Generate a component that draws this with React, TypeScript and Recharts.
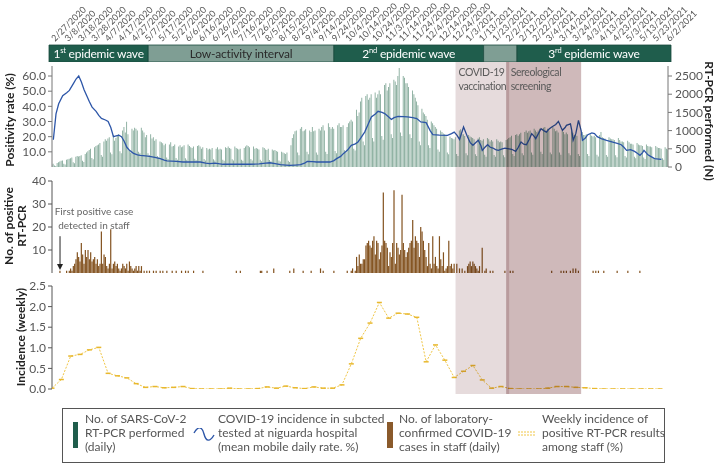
import React from "react";
import {
  ComposedChart,
  Bar,
  Line,
  XAxis,
  YAxis,
  ReferenceArea,
  ReferenceLine,
  ReferenceDot,
} from "recharts";

// day 0 = 2/27/2020, one tick label every 10 days
const dateLabels = [
  "2/27/2020", "3/8/2020", "3/18/2020", "3/28/2020", "4/7/2020", "4/17/2020",
  "4/27/2020", "5/7/2020", "5/17/2020", "5/27/2020", "6/6/2020", "6/16/2020",
  "6/26/2020", "7/6/2020", "7/16/2020", "7/26/2020", "8/5/2020", "8/15/2020",
  "8/25/2020", "9/4/2020", "9/14/2020", "9/24/2020", "10/4/2020", "10/14/2020",
  "10/24/2020", "11/3/2020", "11/14/2020", "11/24/2020", "12/4/2020", "12/14/2020",
  "12/24/2020", "1/3/2021", "1/13/2021", "1/23/2021", "2/2/2021", "2/12/2021",
  "2/22/2021", "3/4/2021", "3/14/2021", "3/24/2021", "4/3/2021", "4/13/2021",
  "4/23/2021", "5/3/2021", "5/13/2021", "5/23/2021", "6/2/2021",
];
const dateTicks = dateLabels.map((_, i) => i * 10);

const phaseStart = [-2.25, 72, 211, 323, 348];
const phaseEnd = [72, 211, 323, 348, 463.25];
const phaseNum = ["1", "Low-activity interval", "2", "", "3"];
const phaseSup = ["st", "", "nd", "", "rd"];
const phaseRest = [" epidemic wave", "", " epidemic wave", "", " epidemic wave"];
const phaseFill = ["#1f5d4c", "#7f9e94", "#1f5d4c", "#7f9e94", "#1f5d4c"];
const phaseText = ["#ffffff", "#2b2b2b", "#ffffff", "#ffffff", "#ffffff"];

const eventNames = [["COVID-19", "vaccination"], ["Sereological", "screening"]];
const eventStart = [302, 341];
const eventEnd = [341, 396];
const eventFill = ["#e6dbdc", "#cfb9ba"];

// daily RT-PCR performed, one row per week (Thu..Wed)
const rtpcrDaily = [
  60, 90, 40, 30, 110, 130, 150,
  170, 180, 90, 70, 200, 210, 230,
  240, 260, 130, 100, 280, 300, 290,
  300, 320, 170, 140, 360, 400, 430,
  470, 500, 250, 210, 540, 580, 600,
  620, 660, 330, 280, 700, 760, 720,
  780, 820, 400, 350, 880, 720, 800,
  860, 900, 430, 380, 1000, 1100, 950,
  1240, 900, 450, 400, 1050, 1000, 1080,
  1050, 1000, 420, 380, 1080, 1000, 950,
  820, 880, 380, 320, 900, 780, 820,
  720, 760, 300, 260, 700, 680, 650,
  600, 640, 260, 220, 620, 680, 560,
  580, 620, 250, 200, 560, 600, 540,
  560, 600, 240, 200, 620, 580, 540,
  520, 560, 230, 190, 580, 600, 560,
  500, 540, 220, 180, 520, 480, 500,
  480, 520, 210, 180, 500, 540, 480,
  500, 480, 200, 170, 540, 520, 560,
  520, 500, 210, 180, 560, 520, 500,
  480, 500, 200, 170, 520, 560, 600,
  580, 540, 220, 180, 560, 500, 520,
  500, 480, 200, 160, 540, 520, 480,
  470, 500, 190, 160, 480, 450, 470,
  440, 420, 180, 150, 420, 400, 380,
  360, 400, 170, 140, 600, 800, 900,
  980, 1000, 400, 320, 1050, 1100, 980,
  1000, 1040, 420, 350, 1000, 960, 1100,
  980, 1000, 400, 340, 1050, 1000, 1100,
  1150, 1000, 420, 360, 1200, 1100, 1050,
  1100, 1050, 440, 380, 1150, 1200, 1100,
  1100, 1150, 460, 400, 1100, 1200, 1250,
  1300, 1250, 500, 450, 1570, 1400, 1500,
  1800, 1900, 700, 600, 1950, 2000, 1850,
  1900, 2000, 800, 700, 2050, 1900, 2000,
  2100, 2000, 850, 750, 2250, 2300, 2100,
  2200, 2300, 900, 800, 2400, 2350, 2250,
  2500, 2720, 950, 850, 2500, 2450, 2300,
  2300, 2200, 900, 800, 2100, 2000, 1900,
  1800, 1700, 700, 600, 1600, 1500, 1450,
  1400, 1300, 600, 520, 1250, 1200, 1150,
  1100, 1050, 480, 420, 1000, 960, 920,
  900, 860, 400, 350, 840, 800, 780,
  760, 820, 360, 300, 1000, 1040, 900,
  900, 850, 380, 320, 880, 840, 820,
  800, 760, 350, 300, 780, 820, 740,
  720, 760, 340, 280, 800, 760, 700,
  740, 700, 330, 280, 760, 720, 680,
  700, 680, 320, 270, 740, 760, 800,
  820, 860, 360, 300, 880, 900, 860,
  900, 940, 380, 320, 960, 1000, 940,
  980, 1000, 400, 340, 1050, 1000, 960,
  1000, 1050, 420, 360, 1080, 1100, 1000,
  1050, 1000, 400, 350, 1100, 1050, 980,
  1000, 950, 400, 340, 1000, 960, 900,
  950, 900, 380, 320, 980, 940, 880,
  900, 860, 360, 300, 920, 960, 880,
  880, 900, 360, 300, 900, 860, 840,
  860, 820, 340, 290, 880, 960, 820,
  800, 780, 330, 280, 820, 780, 760,
  760, 740, 320, 270, 800, 740, 700,
  700, 680, 300, 260, 720, 680, 640,
  640, 620, 280, 240, 660, 620, 600,
  600, 580, 260, 220, 620, 580, 560,
  560, 540, 250, 210, 580, 540, 520,
  520, 500, 240, 200, 540, 500, 480,
];

// positivity rate (%), mobile mean, read at these days
const rateDays = [
  1, 3, 5, 8, 11, 13, 16, 18, 20, 22, 24, 26, 28, 30, 33, 35, 37, 40, 42, 44,
  46, 48, 50, 52, 54, 56, 58, 61, 64, 66, 70, 73, 77, 81, 84, 86, 93, 98, 105, 111,
  115, 118, 122, 128, 135, 142, 148, 155, 160, 163, 167, 171, 175, 178, 182, 186, 189, 191, 195, 198,
  203, 208, 211, 213, 216, 218, 221, 224, 227, 229, 231, 234, 237, 239, 242, 244, 247, 249, 252, 254,
  256, 259, 263, 266, 270, 273, 276, 280, 283, 285, 290, 296, 299, 301, 303, 305, 308, 310, 311, 313,
  315, 317, 319, 321, 322, 324, 326, 328, 330, 332, 334, 337, 339, 342, 344, 347, 349, 351, 353, 355,
  357, 359, 361, 362, 364, 366, 368, 370, 372, 374, 377, 379, 381, 382, 384, 385, 388, 389, 390, 392,
  394, 396, 397, 399, 401, 404, 406, 408, 411, 415, 419, 423, 426, 428, 430, 433, 436, 438, 440, 442,
  443, 445, 446, 448, 451, 454, 456,
];
const rateValues = [
  18, 35, 41.7, 47, 49, 50.5, 55, 58, 60, 56, 51, 47, 43, 39.5, 36.7, 34, 32, 31, 30, 26,
  20, 20.5, 21, 20, 17, 13, 11, 9, 8, 7.7, 7.3, 7, 6.3, 5.5, 4.5, 4, 3.7, 3.3, 3.4, 3.3,
  2.6, 2.2, 2.6, 1.8, 1.8, 1.8, 1.8, 2, 2.5, 2.8, 2.2, 1.5, 1.3, 1.1, 1.3, 1.5, 2.5, 3.7, 3.5, 3.3,
  3.3, 3.3, 4.2, 5.5, 7, 8.8, 11, 14.3, 15.3, 16.5, 19, 23, 29, 33, 35, 36.7, 36, 35.2, 33, 31.4,
  32.5, 33.4, 33.2, 33, 32.5, 31.9, 29.7, 29.2, 24, 21.3, 21, 20.9, 22, 23, 21, 18.2, 26.4, 22, 19.8, 16,
  14.3, 16, 17.6, 14, 11, 13, 14.7, 13, 12.5, 11.5, 11, 12, 12.5, 12, 11.7, 10.3, 13, 16.5, 15, 14.7,
  18, 22, 20, 18.7, 22, 25.3, 24, 23, 25, 26.4, 28, 30.1, 26, 24.2, 26, 27.5, 28.5, 24, 17.6, 22,
  30.8, 24, 17.6, 19, 21.3, 22.5, 22, 20, 18.7, 17.5, 16.5, 15.5, 14.7, 13, 11, 11.5, 10.3, 9, 7.7, 9.5,
  11, 9, 8.1, 7, 5.5, 5.2, 5,
];

// laboratory-confirmed cases in staff (days with at least one case)
const caseDays = [
  6, 11, 13, 14, 15, 16, 17, 18, 19, 20, 21, 22, 23, 24, 25, 26, 27, 28, 29, 30,
  31, 32, 33, 34, 35, 36, 37, 38, 39, 40, 41, 42, 43, 44, 45, 46, 47, 48, 49, 50,
  51, 52, 53, 54, 55, 56, 57, 58, 59, 60, 61, 62, 63, 64, 65, 66, 67, 69, 71, 73,
  76, 78, 81, 83, 86, 90, 93, 97, 100, 102, 106, 113, 138, 141, 156, 157, 161, 166, 178, 181,
  188, 194, 201, 203, 211, 221, 224, 225, 227, 228, 229, 230, 231, 232, 233, 234, 235, 236, 237, 238,
  239, 240, 241, 242, 243, 244, 245, 246, 247, 248, 249, 250, 251, 252, 253, 254, 255, 256, 257, 258,
  259, 260, 261, 262, 263, 264, 265, 266, 267, 268, 269, 270, 271, 272, 273, 274, 275, 276, 277, 278,
  279, 280, 281, 282, 283, 284, 285, 286, 287, 288, 289, 290, 291, 292, 293, 294, 295, 296, 297, 298,
  299, 300, 301, 303, 305, 307, 309, 311, 312, 313, 314, 315, 316, 317, 318, 319, 320, 322, 324, 325,
  328, 330, 339, 343, 345, 374, 381, 383, 385, 388, 390, 392, 394, 405, 407, 409, 413, 423, 431, 440,
];
const caseCounts = [
  1, 1, 1, 2, 1, 3, 4, 6, 9, 7, 5, 13, 8, 4, 10, 7, 10, 6, 9, 5,
  6, 7, 4, 6, 3, 4, 18, 4, 8, 7, 3, 2, 4, 19, 2, 4, 5, 3, 4, 2,
  1, 2, 4, 3, 2, 4, 1, 5, 3, 2, 1, 2, 3, 1, 3, 1, 3, 1, 1, 1,
  1, 1, 1, 1, 1, 1, 1, 1, 1, 1, 1, 1, 1, 1, 1, 1, 1, 2, 1, 2,
  1, 1, 2, 1, 1, 1, 1, 2, 1, 7, 3, 8, 4, 4, 6, 6, 12, 13, 14, 12,
  11, 14, 16, 8, 14, 13, 6, 9, 12, 35, 14, 13, 11, 3, 9, 7, 13, 36, 4, 13,
  11, 8, 10, 34, 13, 10, 7, 9, 11, 13, 14, 23, 11, 16, 14, 13, 7, 20, 18, 14,
  10, 7, 3, 13, 4, 2, 16, 4, 7, 3, 2, 16, 6, 3, 9, 1, 2, 3, 14, 3,
  4, 2, 4, 4, 2, 2, 1, 3, 4, 5, 3, 5, 4, 3, 2, 1, 3, 11, 1, 2,
  1, 1, 1, 1, 1, 1, 1, 1, 1, 1, 2, 2, 1, 1, 1, 1, 1, 1, 1, 1,
];

// weekly incidence among staff (%), one point every 7 days from day 0
const weeklyIncidence = [
  0.02, 0.23, 0.8, 0.84, 0.95, 1.01, 0.38, 0.32, 0.27, 0.13, 0.04,
  0.06, 0.03, 0.04, 0.06, 0.01, 0, 0, 0, 0.02, 0, 0,
  0.01, 0.05, 0.02, 0.07, 0.03, 0.01, 0.05, 0.02, 0.02, 0.1, 0.61,
  1.23, 1.6, 2.1, 1.72, 1.84, 1.82, 1.74, 0.66, 1.07, 0.7, 0.28,
  0.43, 0.57, 0.22, 0.02, 0.06, 0.01, 0, 0, 0, 0.02, 0.06,
  0.06, 0.04, 0.03, 0.01, 0, 0, 0, 0, 0, 0, 0,
];

const rateTicks = [10, 20, 30, 40, 50, 60];
const rtpcrTicks = [0, 500, 1000, 1500, 2000, 2500];
const caseTicks = [10, 20, 30, 40];
const incidenceTicks = [0, 0.5, 1, 1.5, 2, 2.5];

const rtpcrData = rtpcrDaily.map((n, d) => ({ d, n }));
const rateData = rateDays.map((d, i) => ({ d, v: rateValues[i] }));
const caseData = caseDays.map((d, i) => ({ d, c: caseCounts[i] }));
const incidenceData = weeklyIncidence.map((w, i) => ({ d: i * 7, w }));
const frameData = [
  { d: 0, y: 0 },
  { d: 461, y: 1 },
];

const FONT = "Lato, 'Open Sans', sans-serif";
const tickStyle = { fontSize: 12, fill: "#555", fontFamily: FONT };

const DateTick = (props: any) => {
  const { x, payload } = props;
  return (
    <text
      transform={`translate(${x + 3},42) rotate(-45)`}
      fontSize={9}
      fill="#555"
      fontFamily={FONT}
    >
      {dateLabels[Math.round(payload.value / 10)]}
    </text>
  );
};

const phaseLabel = (i: number) => (props: any) => {
  const vb = props.viewBox;
  if (!vb || !phaseNum[i]) return null;
  return (
    <text
      x={vb.x + vb.width / 2}
      y={vb.y + vb.height / 2 + 4.5}
      textAnchor="middle"
      fill={phaseText[i]}
      fontSize={12}
      letterSpacing={-0.2}
      fontFamily={FONT}
    >
      {phaseNum[i]}
      {phaseSup[i] && (
        <tspan fontSize={7.5} dy={-5}>
          {phaseSup[i]}
        </tspan>
      )}
      {phaseRest[i] && <tspan dy={5}>{phaseRest[i]}</tspan>}
    </text>
  );
};

const eventLabel = (i: number) => (props: any) => {
  const vb = props.viewBox;
  if (!vb) return null;
  return (
    <text
      x={vb.x + 3}
      y={vb.y + 14}
      fill="#5a5a5a"
      fontSize={10.5}
      letterSpacing={-0.4}
      fontFamily={FONT}
    >
      <tspan x={vb.x + 3}>{eventNames[i][0]}</tspan>
      <tspan x={vb.x + 3} dy={14}>
        {eventNames[i][1]}
      </tspan>
    </text>
  );
};

const WeekDot = (props: any) => {
  const { cx, cy, index } = props;
  if (cx == null || cy == null) return <g key={index} />;
  return (
    <line
      key={index}
      x1={cx - 2.5}
      x2={cx + 2.5}
      y1={cy}
      y2={cy}
      stroke="#e8b82e"
      strokeWidth={1.5}
    />
  );
};

const ArrowHead = (props: any) => {
  const { cx, cy } = props;
  if (cx == null) return <g />;
  return <path d={`M${cx - 3},${cy - 6} L${cx + 3},${cy - 6} L${cx},${cy} Z`} fill="#222" />;
};

const abs = (top: number): React.CSSProperties => ({ position: "absolute", left: 0, top });

const titleProps = {
  textAnchor: "middle" as const,
  fontSize: 12,
  fontWeight: 700,
  fill: "#222",
};

export default function App() {
  return (
    <div
      style={{
        position: "absolute",
        left: 0,
        top: 0,
        width: 718,
        height: 466,
        background: "#fff",
        fontFamily: FONT,
        overflow: "hidden",
      }}
    >
      {/* date labels + phase band */}
      <div style={abs(0)}>
        <ComposedChart
          width={718}
          height={62}
          data={frameData}
          margin={{ top: 0, right: 47, bottom: 0, left: 49 }}
        >
          <XAxis
            dataKey="d"
            type="number"
            orientation="top"
            domain={[-2.25, 463.25]}
            allowDataOverflow
            ticks={dateTicks}
            interval={0}
            tick={<DateTick />}
            tickLine={false}
            axisLine={false}
            height={45}
          />
          <YAxis hide domain={[0, 1]} allowDataOverflow />
          <Line dataKey="y" stroke="none" dot={false} isAnimationActive={false} />
          {phaseStart.map((s, i) => (
            <ReferenceArea
              key={i}
              x1={s}
              x2={phaseEnd[i]}
              y1={0}
              y2={1}
              fill={phaseFill[i]}
              fillOpacity={1}
              stroke="#194a3d"
              strokeWidth={0.8}
              label={phaseLabel(i)}
            />
          ))}
        </ComposedChart>
      </div>

      {/* top panel: RT-PCR performed + positivity rate */}
      <div style={abs(62)}>
        <ComposedChart
          width={718}
          height={117}
          data={rtpcrData}
          margin={{ top: 4, right: 10, bottom: 12, left: 8 }}
        >
          <XAxis
            dataKey="d"
            type="number"
            domain={[0, 461]}
            allowDataOverflow
            tick={false}
            tickLine={false}
            axisLine={{ stroke: "#999" }}
            height={0}
          />
          <YAxis
            yAxisId="rate"
            width={44}
            domain={[0, 66.6]}
            allowDataOverflow
            ticks={rateTicks}
            interval={0}
            tickFormatter={(v: number) => v.toFixed(1)}
            tick={tickStyle}
            tickSize={4}
            tickMargin={2}
            axisLine={{ stroke: "#777" }}
            tickLine={{ stroke: "#777" }}
          />
          <YAxis
            yAxisId="n"
            orientation="right"
            width={40}
            domain={[0, 2775]}
            allowDataOverflow
            ticks={rtpcrTicks}
            interval={0}
            tick={tickStyle}
            tickSize={4}
            tickMargin={3}
            axisLine={{ stroke: "#777" }}
            tickLine={{ stroke: "#777" }}
          />
          <Bar
            yAxisId="n"
            dataKey="n"
            barSize={0.9}
            fill="#86ab9b"
            isAnimationActive={false}
          />
          <Line
            yAxisId="rate"
            data={rateData}
            dataKey="v"
            type="linear"
            stroke="#2d56a8"
            strokeWidth={1.3}
            dot={false}
            isAnimationActive={false}
          />
        </ComposedChart>
      </div>

      {/* middle panel: staff cases */}
      <div style={abs(169)}>
        <ComposedChart
          width={718}
          height={110}
          data={caseData}
          margin={{ top: 12, right: 50, bottom: 6, left: 8 }}
        >
          <XAxis
            dataKey="d"
            type="number"
            domain={[0, 461]}
            allowDataOverflow
            tick={false}
            tickLine={false}
            axisLine={{ stroke: "#333" }}
            height={0}
          />
          <YAxis
            width={44}
            domain={[0, 40]}
            allowDataOverflow
            ticks={caseTicks}
            interval={0}
            tick={tickStyle}
            tickSize={4}
            tickMargin={2}
            axisLine={{ stroke: "#555" }}
            tickLine={{ stroke: "#555" }}
          />
          <Bar dataKey="c" barSize={1.8} fill="#83521f" isAnimationActive={false} />
          <ReferenceLine
            segment={[
              { x: 6, y: 16 },
              { x: 6, y: 2.6 },
            ]}
            stroke="#222"
            strokeWidth={1}
          />
          <ReferenceDot x={6} y={1.3} r={3} shape={<ArrowHead />} />
        </ComposedChart>
      </div>

      {/* bottom panel: weekly incidence */}
      <div style={abs(274)}>
        <ComposedChart
          width={718}
          height={127}
          data={incidenceData}
          margin={{ top: 12, right: 50, bottom: 12, left: 8 }}
        >
          <XAxis
            dataKey="d"
            type="number"
            domain={[0, 461]}
            allowDataOverflow
            tick={false}
            tickLine={false}
            axisLine={{ stroke: "#333" }}
            height={0}
          />
          <YAxis
            width={44}
            domain={[0, 2.5]}
            allowDataOverflow
            ticks={incidenceTicks}
            interval={0}
            tickFormatter={(v: number) => v.toFixed(1)}
            tick={tickStyle}
            tickSize={4}
            tickMargin={2}
            axisLine={{ stroke: "#555" }}
            tickLine={{ stroke: "#555" }}
          />
          <Line
            dataKey="w"
            type="linear"
            stroke="#f0c646"
            strokeWidth={1}
            strokeDasharray="2 1.5"
            dot={<WeekDot />}
            isAnimationActive={false}
          />
        </ComposedChart>
      </div>

      {/* vaccination / screening shading across the three panels */}
      <div style={{ ...abs(62), mixBlendMode: "multiply", pointerEvents: "none" }}>
        <ComposedChart
          width={718}
          height={332}
          data={frameData}
          margin={{ top: 0, right: 50, bottom: 0, left: 52 }}
        >
          <XAxis hide dataKey="d" type="number" domain={[0, 461]} allowDataOverflow />
          <YAxis hide domain={[0, 1]} allowDataOverflow />
          <Line dataKey="y" stroke="none" dot={false} isAnimationActive={false} />
          {eventStart.map((s, i) => (
            <ReferenceArea
              key={i}
              x1={s}
              x2={eventEnd[i]}
              y1={0}
              y2={1}
              fill={eventFill[i]}
              fillOpacity={1}
              label={eventLabel(i)}
            />
          ))}
          <ReferenceLine x={eventStart[1]} stroke="#b99b9d" strokeWidth={3} />
        </ComposedChart>
      </div>

      {/* axis titles and annotation */}
      <svg
        width={718}
        height={466}
        style={{ position: "absolute", left: 0, top: 0, pointerEvents: "none" }}
        fontFamily={FONT}
      >
        <text transform="translate(14,120) rotate(-90)" {...titleProps}>
          Positivity rate (%)
        </text>
        <text transform="translate(705,121) rotate(90)" {...titleProps}>
          RT-PCR performed (N)
        </text>
        <text transform="translate(13,226) rotate(-90)" {...titleProps}>
          No. of positive
        </text>
        <text transform="translate(26,226) rotate(-90)" {...titleProps}>
          RT-PCR
        </text>
        <text transform="translate(25,337) rotate(-90)" {...titleProps}>
          Incidence (weekly)
        </text>
        <text x={94} y={215} textAnchor="middle" fontSize={10} fill="#666">
          First positive case
        </text>
        <text x={94} y={229} textAnchor="middle" fontSize={10} fill="#666">
          detected in staff
        </text>
      </svg>

      {/* legend */}
      <div
        style={{
          position: "absolute",
          left: 62,
          top: 408,
          width: 603,
          height: 55,
          boxSizing: "border-box",
          border: "1px solid #555",
          fontSize: 12,
          lineHeight: "14px",
          color: "#555",
        }}
      >
        <div style={{ position: "absolute", left: 10, top: 13, width: 5, height: 26, background: "#1f5d4c" }} />
        <div style={{ position: "absolute", left: 22, top: 3, whiteSpace: "nowrap" }}>
          No. of SARS-CoV-2
          <br />
          RT-PCR performed
          <br />
          (daily)
        </div>
        <svg width={22} height={14} style={{ position: "absolute", left: 130, top: 19 }}>
          <path d="M1,5 C5,-2 9,-2 11,6 C13,14 17,14 21,7" fill="none" stroke="#2d56a8" strokeWidth={1.4} />
        </svg>
        <div style={{ position: "absolute", left: 155, top: 3, whiteSpace: "nowrap" }}>
          COVID-19 incidence in subcted
          <br />
          tested at niguarda hospital
          <br />
          (mean mobile daily rate. %)
        </div>
        <div style={{ position: "absolute", left: 324, top: 13, width: 6, height: 26, background: "#8a5a2b" }} />
        <div style={{ position: "absolute", left: 336, top: 3, whiteSpace: "nowrap" }}>
          No. of laboratory-
          <br />
          confirmed COVID-19
          <br />
          cases in staff (daily)
        </div>
        <svg width={18} height={10} style={{ position: "absolute", left: 455, top: 21 }}>
          <line x1={0} x2={17} y1={2} y2={2} stroke="#f0c646" strokeWidth={1} strokeDasharray="2 1" />
          <line x1={0} x2={17} y1={5} y2={5} stroke="#f0c646" strokeWidth={1} strokeDasharray="2 1" />
        </svg>
        <div style={{ position: "absolute", left: 479, top: 3, whiteSpace: "nowrap" }}>
          Weekly incidence of
          <br />
          positive RT-PCR results
          <br />
          among staff (%)
        </div>
      </div>
    </div>
  );
}
